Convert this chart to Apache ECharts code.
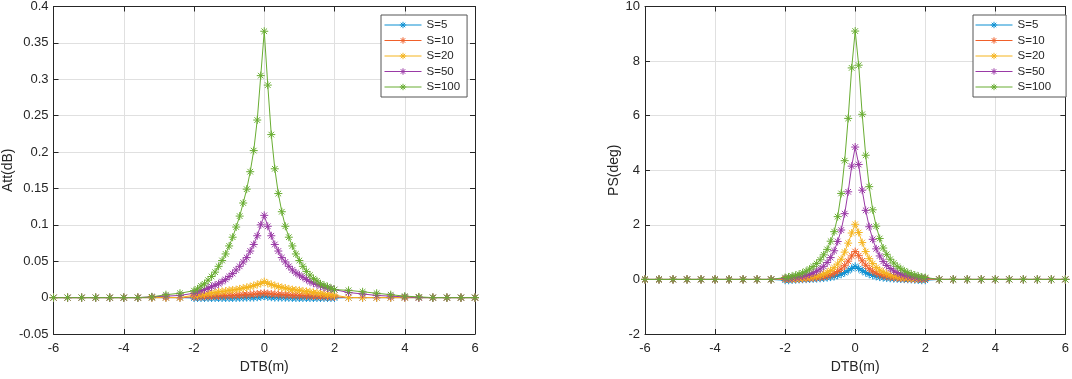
<!DOCTYPE html>
<html>
<head>
<meta charset="utf-8">
<script src="https://cdn.jsdelivr.net/npm/echarts@6/dist/echarts.min.js"></script>
<style>
  html, body { margin: 0; padding: 0; background: #fff; }
  #chart { width: 1072px; height: 379px; }
</style>
</head>
<body>
<div id="chart"></div>
<script>
// DTB sample points: coarse outside +-2 m, dense inside
const dtb = [-6, -5.6, -5.2, -4.8, -4.4, -4, -3.6, -3.2, -2.8, -2.4,
  -2, -1.9, -1.8, -1.7, -1.6, -1.5, -1.4, -1.3, -1.2, -1.1,
  -1, -0.9, -0.8, -0.7, -0.6, -0.5, -0.4, -0.3, -0.2, -0.1,
  0,
  0.1, 0.2, 0.3, 0.4, 0.5, 0.6, 0.7, 0.8, 0.9, 1,
  1.1, 1.2, 1.3, 1.4, 1.5, 1.6, 1.7, 1.8, 1.9, 2,
  2.4, 2.8, 3.2, 3.6, 4, 4.4, 4.8, 5.2, 5.6, 6];

const seriesNames = ['S=5', 'S=10', 'S=20', 'S=50', 'S=100'];
const colors = ['#0a8fd2', '#f0602a', '#f5b41e', '#9a3aa6', '#69ad32'];

// Att(dB)
const att5 = [0, 0, 0, 0, 0, 0, 0, 0, 0, 0,
  -0.0005, -0.0005, -0.0005, -0.0005, -0.0005, -0.0005, -0.0005, -0.0005, -0.0005, -0.0005,
  -0.0005, -0.0005, -0.0004, -0.0003, -0.0002, 0, 0, 0, 0.0005, 0.001,
  0.002,
  0.001, 0.0005, 0, 0, 0, -0.0002, -0.0003, -0.0004, -0.0005, -0.0005,
  -0.0005, -0.0005, -0.0005, -0.0005, -0.0005, -0.0005, -0.0005, -0.0005, -0.0005, -0.0005,
  0, 0, 0, 0, 0, 0, 0, 0, 0, 0];
const att10 = [0, 0, 0, 0, 0, 0, 0, 0, 0, 0,
  0.001, 0.0012, 0.0014, 0.0016, 0.0018, 0.002, 0.0022, 0.0024, 0.0026, 0.0028,
  0.003, 0.0031, 0.0033, 0.0035, 0.0037, 0.004, 0.0043, 0.0047, 0.005, 0.0055,
  0.006,
  0.0055, 0.005, 0.0047, 0.0043, 0.004, 0.0037, 0.0035, 0.0033, 0.0031, 0.003,
  0.0028, 0.0026, 0.0024, 0.0022, 0.002, 0.0018, 0.0016, 0.0014, 0.0012, 0.001,
  0, 0, 0, 0, 0, 0, 0, 0, 0, 0];
const att20 = [0, 0, 0, 0, 0, 0, 0, 0, 0, 0,
  0.0035, 0.004, 0.0045, 0.005, 0.006, 0.0065, 0.007, 0.008, 0.0085, 0.009,
  0.01, 0.0105, 0.011, 0.012, 0.013, 0.014, 0.015, 0.0165, 0.018, 0.0195,
  0.022,
  0.0195, 0.018, 0.0165, 0.015, 0.014, 0.013, 0.012, 0.011, 0.0105, 0.01,
  0.009, 0.0085, 0.008, 0.007, 0.0065, 0.006, 0.005, 0.0045, 0.004, 0.0035,
  0, 0, 0, 0, 0, 0, 0, 0, 0, 0];
const att50 = [0, 0, 0, 0, 0, 0, 0, 0.001, 0.002, 0.003,
  0.006, 0.008, 0.0095, 0.011, 0.013, 0.015, 0.017, 0.019, 0.022, 0.025,
  0.029, 0.033, 0.038, 0.043, 0.049, 0.055, 0.064, 0.073, 0.085, 0.1,
  0.113,
  0.098, 0.085, 0.073, 0.064, 0.055, 0.049, 0.043, 0.038, 0.034, 0.031,
  0.028, 0.025, 0.022, 0.02, 0.018, 0.016, 0.014, 0.013, 0.012, 0.011,
  0.007, 0.005, 0.003, 0.002, 0.001, 0, 0, 0, 0, 0];
const att100 = [0, 0, 0, 0, 0, 0, 0, 0.001, 0.004, 0.006,
  0.0095, 0.012, 0.016, 0.019, 0.024, 0.029, 0.035, 0.043, 0.051, 0.06,
  0.071, 0.083, 0.097, 0.112, 0.13, 0.149, 0.173, 0.202, 0.244, 0.305,
  0.366,
  0.292, 0.224, 0.177, 0.143, 0.118, 0.098, 0.083, 0.071, 0.06, 0.051,
  0.043, 0.036, 0.031, 0.026, 0.023, 0.019, 0.017, 0.015, 0.013, 0.011,
  0.01, 0.008, 0.006, 0.004, 0.002, 0.001, 0, 0, 0, 0];

// PS(deg)
const ps5 = [0, 0, 0, 0, 0, 0, 0, 0, 0, 0,
  -0.03, -0.03, -0.02, -0.01, 0, 0.005, 0.01, 0.015, 0.022, 0.03,
  0.04, 0.05, 0.065, 0.085, 0.11, 0.15, 0.19, 0.25, 0.32, 0.4,
  0.48,
  0.4, 0.32, 0.25, 0.19, 0.15, 0.11, 0.085, 0.065, 0.05, 0.04,
  0.03, 0.022, 0.015, 0.01, 0.005, 0, -0.01, -0.02, -0.03, -0.03,
  0, 0, 0, 0, 0, 0, 0, 0, 0, 0];
const ps10 = [0, 0, 0, 0, 0, 0, 0, 0, 0, 0,
  0.01, 0.012, 0.015, 0.018, 0.022, 0.027, 0.034, 0.042, 0.052, 0.065,
  0.08, 0.1, 0.13, 0.17, 0.22, 0.29, 0.38, 0.5, 0.67, 0.86,
  1.02,
  0.87, 0.68, 0.52, 0.39, 0.3, 0.23, 0.18, 0.14, 0.11, 0.09,
  0.07, 0.055, 0.045, 0.035, 0.028, 0.022, 0.018, 0.015, 0.012, 0.01,
  0, 0, 0, 0, 0, 0, 0, 0, 0, 0];
const ps20 = [0, 0, 0, 0, 0, 0, 0, 0, 0, 0,
  0.02, 0.025, 0.03, 0.035, 0.045, 0.055, 0.07, 0.085, 0.1, 0.13,
  0.16, 0.2, 0.26, 0.33, 0.43, 0.56, 0.74, 1, 1.33, 1.7,
  2.02,
  1.72, 1.35, 1.02, 0.76, 0.58, 0.44, 0.34, 0.27, 0.21, 0.17,
  0.135, 0.11, 0.09, 0.075, 0.06, 0.05, 0.04, 0.035, 0.03, 0.025,
  0, 0, 0, 0, 0, 0, 0, 0, 0, 0];
const ps50 = [0, 0, 0, 0, 0, 0, 0, 0, 0, 0,
  0.04, 0.05, 0.06, 0.08, 0.1, 0.12, 0.15, 0.19, 0.24, 0.3,
  0.38, 0.48, 0.62, 0.8, 1.05, 1.39, 1.81, 2.41, 3.21, 4.15,
  4.85,
  4.21, 3.27, 2.53, 1.93, 1.47, 1.12, 0.86, 0.66, 0.51, 0.4,
  0.31, 0.25, 0.2, 0.16, 0.13, 0.1, 0.08, 0.06, 0.05, 0.04,
  0, 0, 0, 0, 0, 0, 0, 0, 0, 0];
const ps100 = [0, 0, 0, 0, 0, 0, 0, 0, 0, 0,
  0.07, 0.09, 0.12, 0.15, 0.19, 0.24, 0.3, 0.38, 0.47, 0.58,
  0.72, 0.9, 1.1, 1.4, 1.75, 2.3, 3.15, 4.35, 5.9, 7.75,
  9.1,
  7.85, 6.05, 4.55, 3.4, 2.55, 1.95, 1.5, 1.15, 0.92, 0.74,
  0.6, 0.48, 0.39, 0.31, 0.25, 0.2, 0.16, 0.12, 0.09, 0.07,
  0, 0, 0, 0, 0, 0, 0, 0, 0, 0];

const attData = [att5, att10, att20, att50, att100];
const psData = [ps5, ps10, ps20, ps50, ps100];

const font = 'Liberation Sans, Arial, sans-serif';
const axisColor = '#262626';
const star = 'path://M5 0L5 10M0 5L10 5M1.5 1.5L8.5 8.5M8.5 1.5L1.5 8.5';

function xAxes(gridIndex) {
  const base = {
    type: 'value', gridIndex: gridIndex, min: -6, max: 6, interval: 2,
    axisLine: { show: true, onZero: false, lineStyle: { color: axisColor, width: 1 } },
    axisTick: { show: true, inside: true, length: 5, lineStyle: { color: axisColor } }
  };
  return [
    Object.assign({}, base, {
      position: 'bottom',
      name: 'DTB(m)', nameLocation: 'middle', nameGap: 26,
      nameTextStyle: { color: axisColor, fontSize: 14, fontFamily: font },
      axisLabel: { color: axisColor, fontSize: 13, fontFamily: font, margin: 8 },
      splitLine: { show: true, lineStyle: { color: '#e0e0e0', width: 1 } }
    }),
    Object.assign({}, base, {
      position: 'top',
      axisLabel: { show: false },
      splitLine: { show: false }
    })
  ];
}

function yAxes(gridIndex, min, max, interval, name, nameGap) {
  const base = {
    type: 'value', gridIndex: gridIndex, min: min, max: max, interval: interval,
    axisLine: { show: true, onZero: false, lineStyle: { color: axisColor, width: 1 } },
    axisTick: { show: true, inside: true, length: 5, lineStyle: { color: axisColor } }
  };
  return [
    Object.assign({}, base, {
      position: 'left',
      name: name, nameLocation: 'middle', nameGap: nameGap,
      nameTextStyle: { color: axisColor, fontSize: 14, fontFamily: font },
      axisLabel: { color: axisColor, fontSize: 13, fontFamily: font, margin: 5 },
      splitLine: { show: true, lineStyle: { color: '#e0e0e0', width: 1 } }
    }),
    Object.assign({}, base, {
      position: 'right',
      axisLabel: { show: false },
      splitLine: { show: false }
    })
  ];
}

function makeSeries(data, axisIndex) {
  return data.map((vals, k) => ({
    name: seriesNames[k],
    type: 'line',
    xAxisIndex: axisIndex,
    yAxisIndex: axisIndex,
    data: dtb.map((x, i) => [x, vals[i]]),
    symbol: star,
    symbolSize: 8,
    showAllSymbol: true,
    lineStyle: { color: colors[k], width: 1 },
    itemStyle: { color: colors[k], borderColor: colors[k], borderWidth: 1 },
    emphasis: { disabled: true }
  }));
}

function legend(left, padding) {
  return {
    orient: 'vertical', left: left, top: 15,
    padding: padding,
    itemWidth: 37, itemHeight: 8, itemGap: 3.5,
    backgroundColor: '#fff',
    borderColor: '#555', borderWidth: 1,
    lineStyle: { width: 1 },
    itemStyle: { borderWidth: 1 },
    textStyle: { color: axisColor, fontSize: 11.5, fontFamily: font },
    data: seriesNames,
    selectedMode: false
  };
}

const chart = echarts.init(document.getElementById('chart'));
const leftX = xAxes(0), rightX = xAxes(1);
const leftY = yAxes(0, -0.05, 0.4, 0.05, 'Att(dB)', 36);
const rightY = yAxes(1, -2, 10, 2, 'PS(deg)', 22);

const attSeries = makeSeries(attData, 0);
const psSeries = makeSeries(psData, 2);

chart.setOption({
  animation: false,
  backgroundColor: '#fff',
  grid: [
    { left: 53, top: 6, width: 422, height: 333, show: false },
    { left: 645, top: 6, width: 421, height: 333, show: false }
  ],
  legend: [
    legend(381, [4, 7, 4, 3]),
    legend(973, [4, 15, 4, 2])
  ],
  xAxis: [leftX[0], leftX[1], rightX[0], rightX[1]],
  yAxis: [leftY[0], leftY[1], rightY[0], rightY[1]],
  series: attSeries.concat(psSeries)
});
</script>
</body>
</html>
